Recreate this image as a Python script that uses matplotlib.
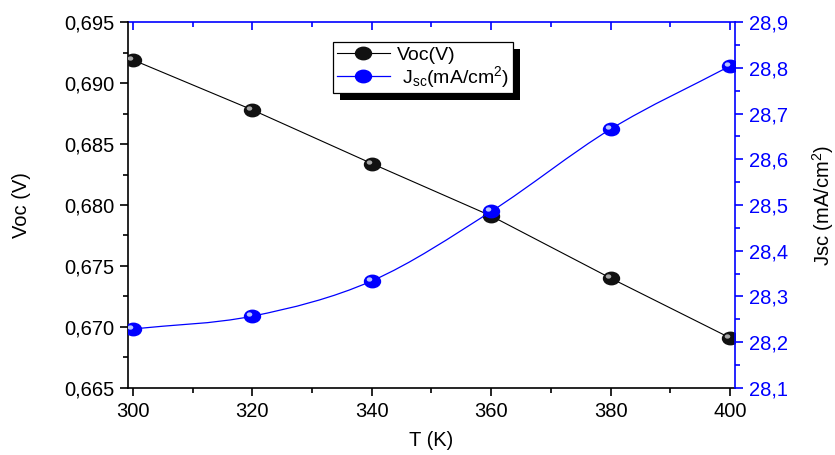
import numpy as np
import matplotlib
matplotlib.use("Agg")
import matplotlib.pyplot as plt
from matplotlib.path import Path
from matplotlib.patches import PathPatch, Rectangle
from matplotlib.transforms import Affine2D, offset_copy
from matplotlib.ticker import MultipleLocator, FuncFormatter

plt.rcParams['font.family'] = ['Liberation Sans', 'DejaVu Sans']
plt.rcParams['mathtext.fontset'] = 'custom'
plt.rcParams['mathtext.rm'] = 'Liberation Sans'
plt.rcParams['mathtext.it'] = 'Liberation Sans'

# temperature (K) and measured values
T = [300, 320, 340, 360, 380, 400]
Voc = [0.6919, 0.6878, 0.6834, 0.6791, 0.6740, 0.6691]
Jsc = [28.229, 28.257, 28.334, 28.486, 28.666, 28.804]

BLUE = '#0000ff'
FS = 14.5

def comma(fmt):
    return FuncFormatter(lambda v, p: fmt.format(v).replace('.', ','))

def smooth_path(x, y):
    # Catmull-Rom curve through the points, written as cubic Bezier segments
    x = np.asarray(x, float)
    y = np.asarray(y, float)
    px = np.concatenate([[2 * x[0] - x[1]], x, [2 * x[-1] - x[-2]]])
    py = np.concatenate([[2 * y[0] - y[1]], y, [2 * y[-1] - y[-2]]])
    verts = [(x[0], y[0])]
    codes = [Path.MOVETO]
    for i in range(1, len(px) - 2):
        c1 = (px[i] + (px[i + 1] - px[i - 1]) / 6, py[i] + (py[i + 1] - py[i - 1]) / 6)
        c2 = (px[i + 1] - (px[i + 2] - px[i]) / 6, py[i + 1] - (py[i + 2] - py[i]) / 6)
        verts += [c1, c2, (px[i + 1], py[i + 1])]
        codes += [Path.CURVE4] * 3
    return Path(verts, codes)

ball = Path.unit_circle().transformed(Affine2D().scale(1, 0.78))
MS = 11.5

fig = plt.figure(figsize=(8.35, 4.55), dpi=100)
ax = fig.add_axes([0.1533, 0.1473, 0.7269, 0.8043])
ax2 = ax.twinx()

# Voc: straight segments
ax.plot(T, Voc, color='black', lw=0.8, marker=ball, ms=MS,
        mfc='#111111', mec='#111111', zorder=3)
ax.plot(T, Voc, ls='none', marker=ball, ms=4, mfc='#a8a8a8', mec='none',
        transform=offset_copy(ax.transData, fig, x=-3, y=2, units='dots'), zorder=4)

# Jsc: smooth curve
ax2.add_patch(PathPatch(smooth_path(T, Jsc), fc='none', ec=BLUE, lw=0.9, zorder=2))
ax2.plot(T, Jsc, ls='none', marker=ball, ms=MS, mfc=BLUE, mec=BLUE, zorder=3)
ax2.plot(T, Jsc, ls='none', marker=ball, ms=4, mfc='#b8c4ff', mec='none',
         transform=offset_copy(ax2.transData, fig, x=-3, y=2, units='dots'), zorder=4)

ax.set_xlim(299.2, 400.8)
ax.set_ylim(0.665, 0.695)
ax2.set_ylim(28.1, 28.9)

ax.xaxis.set_major_locator(MultipleLocator(20))
ax.xaxis.set_minor_locator(MultipleLocator(10))
ax.yaxis.set_major_locator(MultipleLocator(0.005))
ax.yaxis.set_minor_locator(MultipleLocator(0.0025))
ax.yaxis.set_major_formatter(comma('{:.3f}'))
ax2.yaxis.set_major_locator(MultipleLocator(0.1))
ax2.yaxis.set_minor_locator(MultipleLocator(0.05))
ax2.yaxis.set_major_formatter(comma('{:.1f}'))

ax.tick_params(which='both', direction='out', labelsize=FS, width=1.2, top=False, right=False)
ax.tick_params(which='major', length=6, pad=4)
ax.tick_params(which='minor', length=3.5)
ax2.tick_params(which='both', direction='out', colors=BLUE, labelcolor=BLUE, labelsize=FS, width=1.2)
ax2.tick_params(which='major', length=6, pad=4)
ax2.tick_params(which='minor', length=3.5)

ax.spines['right'].set_visible(False)
ax.spines['top'].set_visible(False)
for s in ('left', 'top', 'bottom'):
    ax2.spines[s].set_visible(False)
ax2.spines['right'].set_color(BLUE)
ax2.spines['right'].set_linewidth(1.2)
ax.spines['left'].set_linewidth(1.2)
ax.spines['bottom'].set_linewidth(1.2)

top = ax.secondary_xaxis('top')
top.xaxis.set_major_locator(MultipleLocator(20))
top.xaxis.set_minor_locator(MultipleLocator(10))
top.tick_params(which='both', direction='in', colors=BLUE, labeltop=False, width=1.2)
top.tick_params(which='major', length=6)
top.tick_params(which='minor', length=3.5)
top.spines['top'].set_color(BLUE)
top.spines['top'].set_linewidth(1.2)

ax.set_xlabel('T (K)', fontsize=FS, labelpad=7)
ax.set_ylabel('Voc (V)', fontsize=FS, labelpad=24)
ax2.set_ylabel('Jsc (mA/cm$^2$)', fontsize=FS, labelpad=16)

leg_v = plt.Line2D([], [], color='black', lw=0.8, marker=ball, ms=MS, mfc='#111111', mec='#111111')
leg_j = plt.Line2D([], [], color=BLUE, lw=0.9, marker=ball, ms=MS, mfc=BLUE, mec=BLUE)
leg = ax2.legend([leg_v, leg_j], ['Voc(V)', ' J$_{sc}$(mA/cm$^2$)'], loc='upper left',
                 bbox_to_anchor=(0.338, 0.945), borderaxespad=0, fontsize=14,
                 fancybox=False, framealpha=1, edgecolor='black', handlelength=2.7,
                 handletextpad=0.4, borderpad=0.2, labelspacing=0.0)
leg.get_frame().set_linewidth(0.9)
leg.set_zorder(10)

# solid drop shadow behind the legend box
fig.canvas.draw()
bb = leg.get_window_extent().transformed(fig.transFigure.inverted())
dx, dy = 7 / 835, 7 / 455
shadow = Rectangle((bb.x0 + dx, bb.y0 - dy), bb.width, bb.height,
                   transform=fig.transFigure, fc='black', ec='none', zorder=9, clip_on=False)
ax2.add_artist(shadow)

fig.savefig('out.png', dpi=100)
